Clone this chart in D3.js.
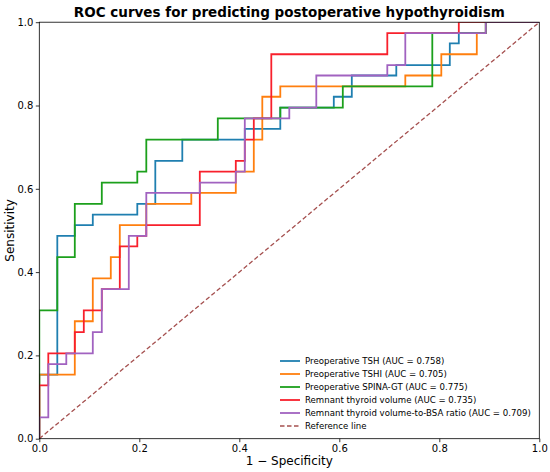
<!DOCTYPE html>
<html>
<head>
<meta charset="utf-8">
<script src="https://cdn.jsdelivr.net/npm/d3@7"></script>
<style>
  body { margin: 0; background: #fff; }
  svg { font-family: "DejaVu Sans", sans-serif; }
</style>
</head>
<body>
<svg id="chart"></svg>
<script>
// ROC operating points (1 - specificity, sensitivity)
const tshFpr = [0, 0, 0.036, 0.071, 0.107, 0.196, 0.232, 0.286, 0.411, 0.482, 0.589, 0.625, 0.714, 0.821, 0.839, 0.893, 1];
const tshTpr = [0, 0.154, 0.487, 0.513, 0.538, 0.564, 0.667, 0.718, 0.744, 0.795, 0.821, 0.872, 0.897, 0.949, 0.974, 1, 1];

const tshiFpr = [0, 0, 0.071, 0.107, 0.143, 0.161, 0.214, 0.304, 0.393, 0.429, 0.446, 0.482, 0.732, 0.804, 0.875, 0.893, 1];
const tshiTpr = [0, 0.154, 0.282, 0.385, 0.436, 0.513, 0.564, 0.590, 0.641, 0.718, 0.821, 0.846, 0.872, 0.923, 0.974, 1, 1];

const spinaFpr = [0, 0, 0.036, 0.071, 0.125, 0.196, 0.214, 0.357, 0.482, 0.607, 0.786, 0.893, 1];
const spinaTpr = [0, 0.308, 0.436, 0.564, 0.615, 0.641, 0.718, 0.769, 0.795, 0.846, 0.974, 1, 1];

const volFpr = [0, 0, 0.018, 0.071, 0.089, 0.125, 0.161, 0.196, 0.214, 0.321, 0.393, 0.411, 0.429, 0.464, 0.696, 0.839, 1];
const volTpr = [0, 0.128, 0.205, 0.256, 0.308, 0.359, 0.462, 0.487, 0.513, 0.641, 0.667, 0.718, 0.769, 0.923, 0.974, 1, 1];

const bsaFpr = [0, 0, 0.018, 0.054, 0.107, 0.125, 0.179, 0.214, 0.321, 0.393, 0.411, 0.5, 0.554, 0.696, 0.732, 0.893, 1];
const bsaTpr = [0, 0.051, 0.179, 0.205, 0.256, 0.359, 0.487, 0.590, 0.615, 0.641, 0.769, 0.795, 0.872, 0.897, 0.974, 1, 1];

const seriesNames = ["Preoperative TSH", "Preoperative TSHI", "Preoperative SPINA-GT", "Remnant thyroid volume", "Remnant thyroid volume-to-BSA ratio"];
const aucValues = [0.758, 0.705, 0.775, 0.735, 0.709];
const seriesColors = ["#1f7fb0", "#ff7f0e", "#1ca01c", "#f8202c", "#a162c0"];
const ticks = [0, 0.2, 0.4, 0.6, 0.8, 1.0];

const width = 550;
const height = 472;
const padLeft = 39.3, padRight = 539.3, padTop = 22.2, padBottom = 438.7;

const svg = d3.select('#chart').attr('width', width).attr('height', height);

const xScale = d3.scaleLinear().domain([0, 1]).range([padLeft, padRight]);
const yScale = d3.scaleLinear().domain([0, 1]).range([padBottom, padTop]);

svg.append('clipPath').attr('id', 'plotClip')
  .append('rect').attr('x', padLeft).attr('y', padTop)
  .attr('width', padRight - padLeft).attr('height', padBottom - padTop);

const series = [
  [tshFpr, tshTpr], [tshiFpr, tshiTpr], [spinaFpr, spinaTpr], [volFpr, volTpr], [bsaFpr, bsaTpr]
].map((s, i) => ({
  name: seriesNames[i],
  auc: aucValues[i],
  color: seriesColors[i],
  points: s[0].map((x, j) => [x, s[1][j]])
}));

// roc points joined as steps: across, then up
const line = d3.line()
  .x(d => xScale(d[0]))
  .y(d => yScale(d[1]))
  .curve(d3.curveStepAfter);

const plot = svg.append('g').attr('clip-path', 'url(#plotClip)');

series.forEach(s => {
  plot.append('path')
    .attr('d', line(s.points))
    .attr('fill', 'none')
    .attr('stroke', s.color)
    .attr('stroke-width', 1.8);
});

// chance line
plot.append('path')
  .attr('d', d3.line().x(d => xScale(d)).y(d => yScale(d))([0, 1]))
  .attr('stroke', '#a5504f')
  .attr('stroke-width', 1.3)
  .attr('stroke-dasharray', '4.5,2.5')
  .attr('fill', 'none');

// axes
const xAxis = d3.axisBottom(xScale).tickValues(ticks).tickFormat(d3.format('.1f')).tickSize(3.5).tickSizeOuter(0);
const yAxis = d3.axisLeft(yScale).tickValues(ticks).tickFormat(d3.format('.1f')).tickSize(3.5).tickSizeOuter(0);

const gx = svg.append('g').attr('transform', 'translate(0,' + padBottom + ')').call(xAxis);
const gy = svg.append('g').attr('transform', 'translate(' + padLeft + ',0)').call(yAxis);
[gx, gy].forEach(g => {
  g.select('.domain').remove();
  g.selectAll('line').attr('stroke', '#000').attr('stroke-width', 0.8);
  g.selectAll('text').attr('font-size', 10).attr('fill', '#000')
    .attr('font-family', '"DejaVu Sans", sans-serif');
});
gx.selectAll('text').attr('dy', '0.71em').attr('y', 6);
gy.selectAll('text').attr('x', -6);

// frame
svg.append('rect')
  .attr('x', padLeft).attr('y', padTop)
  .attr('width', padRight - padLeft).attr('height', padBottom - padTop)
  .attr('fill', 'none').attr('stroke', '#000').attr('stroke-width', 0.8);

// labels
svg.append('text')
  .attr('x', (padLeft + padRight) / 2).attr('y', 17)
  .attr('text-anchor', 'middle')
  .attr('font-size', 13.5).attr('font-weight', 'bold')
  .text('ROC curves for predicting postoperative hypothyroidism');

svg.append('text')
  .attr('x', (padLeft + padRight) / 2).attr('y', 465)
  .attr('text-anchor', 'middle')
  .attr('font-size', 12)
  .text('1 \u2212 Specificity');

svg.append('text')
  .attr('transform', 'translate(14,' + ((padTop + padBottom) / 2) + ') rotate(-90)')
  .attr('text-anchor', 'middle')
  .attr('font-size', 12)
  .text('Sensitivity');

// legend
const legend = svg.append('g').attr('transform', 'translate(280,361)');
const rowH = 13;
const legendItems = series.map(s => ({ label: s.name + ' (AUC = ' + s.auc.toFixed(3) + ')', color: s.color, dash: null }))
  .concat([{ label: 'Reference line', color: '#a5504f', dash: '4.5,2.5' }]);

legendItems.forEach((d, i) => {
  const row = legend.append('g').attr('transform', 'translate(0,' + (i * rowH) + ')');
  row.append('line')
    .attr('x1', 0).attr('x2', 20).attr('y1', 0).attr('y2', 0)
    .attr('stroke', d.color).attr('stroke-width', d.dash ? 1.3 : 1.8)
    .attr('stroke-dasharray', d.dash);
  row.append('text')
    .attr('x', 25).attr('y', 0).attr('dy', '0.35em')
    .attr('font-size', 8.6)
    .text(d.label);
});
</script>
</body>
</html>
